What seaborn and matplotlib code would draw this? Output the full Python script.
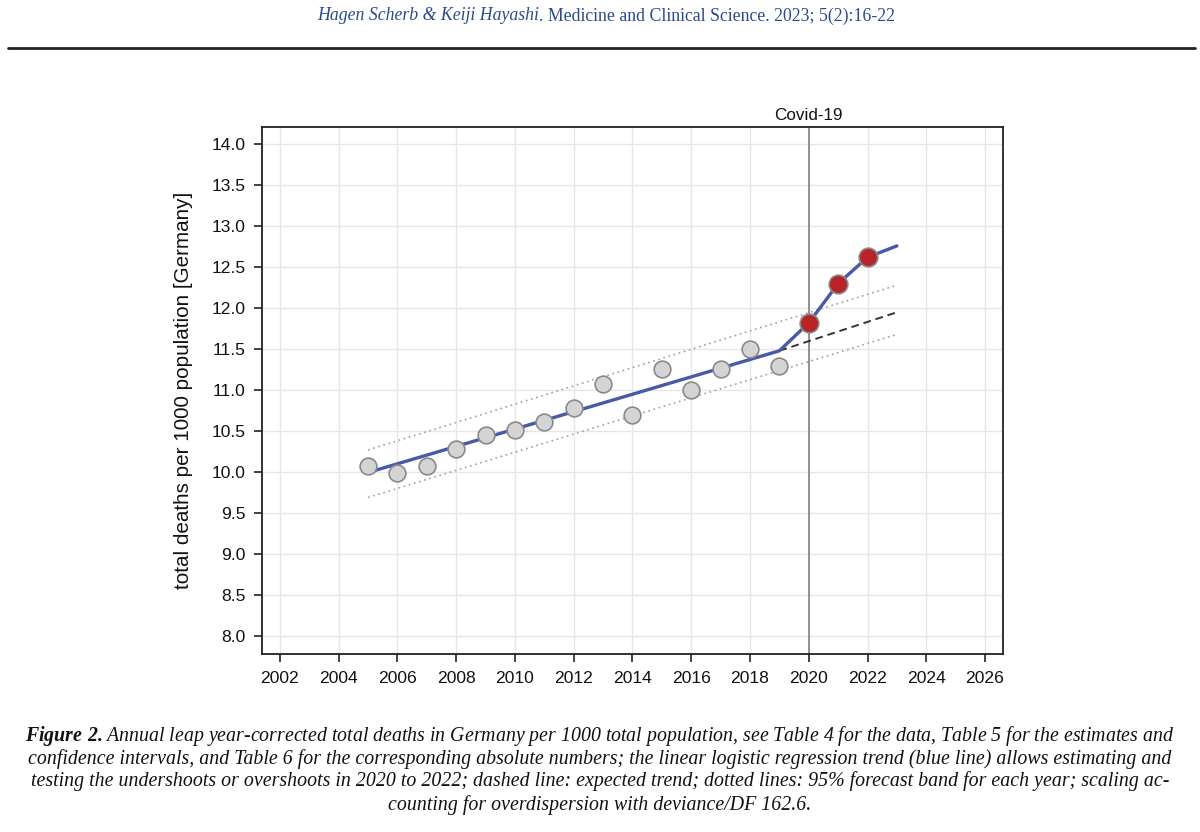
import numpy as np
import pandas as pd
import matplotlib
matplotlib.use("Agg")
from matplotlib import pyplot as plt
import seaborn as sns

years_obs = [2005, 2006, 2007, 2008, 2009, 2010, 2011, 2012, 2013, 2014,
             2015, 2016, 2017, 2018, 2019]
deaths_obs = [10.07, 9.99, 10.07, 10.28, 10.45, 10.51, 10.61, 10.78, 11.07, 10.70,
              11.26, 11.00, 11.26, 11.50, 11.30]
years_covid = [2020, 2021, 2022]
deaths_covid = [11.82, 12.30, 12.62]

# regression trend (blue line)
trend_years = [2005, 2019, 2020, 2021, 2022, 2023]
trend_vals = [9.995, 11.48, 11.82, 12.30, 12.62, 12.76]
# expected trend (dashed)
exp_years = [2019, 2023]
exp_vals = [11.48, 11.95]
# 95% forecast band (dotted)
band_years = [2005, 2023]
band_upper = [10.27, 12.28]
band_lower = [9.69, 11.68]

xticks = list(range(2002, 2027, 2))
yticks = [8.0, 8.5, 9.0, 9.5, 10.0, 10.5, 11.0, 11.5, 12.0, 12.5, 13.0, 13.5, 14.0]

sns.set_theme(style="white")
plt.rcParams['font.family'] = ['Liberation Sans', 'DejaVu Sans']
plt.rcParams['mathtext.fontset'] = 'custom'
plt.rcParams['mathtext.bf'] = 'Liberation Serif:italic:bold'
plt.rcParams['mathtext.rm'] = 'Liberation Serif:italic'

fig = plt.figure(figsize=(12, 8.32), dpi=100)
ax = fig.add_axes([0.2183, 0.2139, 0.6175, 0.6334])

obs = pd.DataFrame({'year': years_obs, 'deaths': deaths_obs})
cov = pd.DataFrame({'year': years_covid, 'deaths': deaths_covid})
trend = pd.DataFrame({'year': trend_years, 'deaths': trend_vals})
expd = pd.DataFrame({'year': exp_years, 'deaths': exp_vals})
band = pd.DataFrame({'year': band_years, 'upper': band_upper, 'lower': band_lower})

ax.axvline(2020, color='#808080', lw=1.2, zorder=1)
sns.lineplot(data=band, x='year', y='upper', ax=ax, color='#a0a0a0', lw=1.2,
             linestyle=(0, (1, 2.2)), zorder=2)
sns.lineplot(data=band, x='year', y='lower', ax=ax, color='#a0a0a0', lw=1.2,
             linestyle=(0, (1, 2.2)), zorder=2)
sns.lineplot(data=expd, x='year', y='deaths', ax=ax, color='#333333', lw=1.4,
             linestyle=(0, (4, 2.5)), zorder=2)
sns.lineplot(data=trend, x='year', y='deaths', ax=ax, color='#4a58a8', lw=2.4, zorder=3)
sns.scatterplot(data=obs, x='year', y='deaths', ax=ax, s=145, color='#d4d4d4',
                edgecolor='#8a8a8a', linewidth=1.2, zorder=4)
sns.scatterplot(data=cov, x='year', y='deaths', ax=ax, s=180, color='#b8232a',
                edgecolor='#8a8a8a', linewidth=1.2, zorder=5)

ax.set_xlim(2001.39, 2026.61)
ax.set_ylim(7.78, 14.21)
ax.set_xticks(xticks)
ax.set_yticks(yticks)
ax.set_yticklabels([f'{v:.1f}' for v in yticks])
ax.grid(True, color='#e6e6e6', lw=1.0)
ax.set_axisbelow(True)
for sp in ax.spines.values():
    sp.set_color('#222222')
    sp.set_linewidth(1.3)
ax.tick_params(axis='both', which='major', direction='out', length=6, width=1.2,
               color='#222222', labelsize=12.6, labelcolor='#111111', pad=6,
               bottom=True, left=True)
ax.set_xlabel('')
ax.set_ylabel('total deaths per 1000 population [Germany]', fontsize=14.9,
              color='#111111', labelpad=13)
ax.text(2020, 14.26, 'Covid-19', ha='center', va='bottom', fontsize=12.3, color='#111111')

# journal header and rule
fig.text(0.449, 0.991, 'Hagen Scherb & Keiji Hayashi', ha='right', va='top',
         fontsize=12.8, style='italic', color='#2a4a8a', family=['Liberation Serif'])
fig.text(0.449, 0.991, '. Medicine and Clinical Science. 2023; 5(2):16-22', ha='left',
         va='top', fontsize=12.8, color='#2a4a8a', family=['Liberation Serif'])
fig.add_artist(plt.Line2D([0.007, 0.996], [0.942, 0.942], color='#222222', lw=2))

# caption
cap = [
    (r"$\bf{Figure\ 2.}$Annual leap year-corrected total deaths in Germany per 1000 total population, see Table 4 for the data, Table 5 for the estimates and", 0.115),
    ("confidence intervals, and Table 6 for the corresponding absolute numbers; the linear logistic regression trend (blue line) allows estimating and", 0.088),
    ("testing the undershoots or overshoots in 2020 to 2022; dashed line: expected trend; dotted lines: 95% forecast band for each year; scaling ac-", 0.061),
    ("counting for overdispersion with deviance/DF 162.6.", 0.032),
]
for t, y in cap:
    fig.text(0.5, y, t, ha='center', va='center', fontsize=14.3, style='italic',
             color='#111111', family=['Liberation Serif'])

fig.savefig('out.png', dpi=100)
